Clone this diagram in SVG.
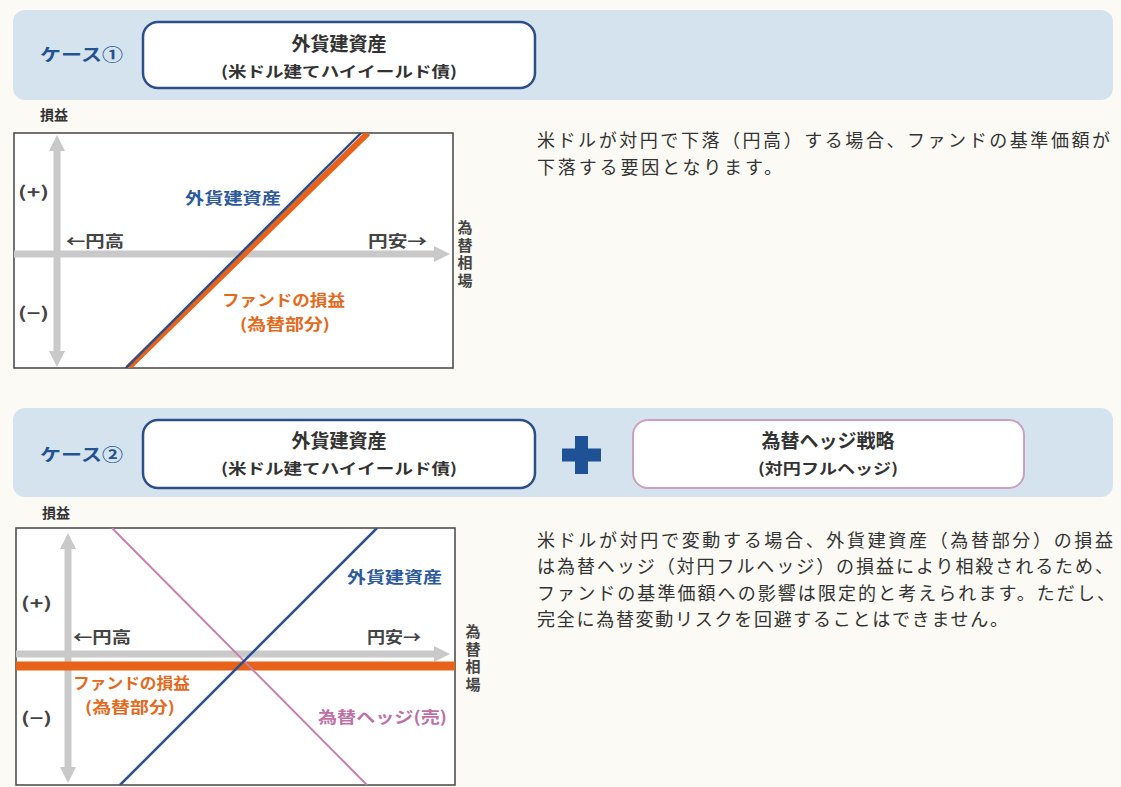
<svg xmlns="http://www.w3.org/2000/svg" width="1121" height="787" viewBox="0 0 1121 787">
<style>
  text { font-family: "Noto Sans CJK JP", "Noto Sans", sans-serif; }
  .banner { fill: #d5e3ef; }
  .box1 { fill: #ffffff; stroke: #2c4f8c; stroke-width: 2.5; }
  .box2 { fill: #ffffff; stroke: #c9a2c2; stroke-width: 2; }
  .case { font-size: 17px; font-weight: 700; fill: #24548f; }
  .title { font-size: 19px; font-weight: 700; fill: #333333; text-anchor: middle; }
  .sub { font-size: 15px; font-weight: 700; fill: #333333; text-anchor: middle; }
  .ylab { font-size: 14px; font-weight: 700; fill: #333333; }
  .frame { fill: #ffffff; stroke: #444444; stroke-width: 1.5; }
  .axis { stroke: #c9c9c9; stroke-width: 7; fill: none; }
  .lbl { font-size: 16px; font-weight: 700; fill: #444444; }
  .blue { font-size: 16px; font-weight: 700; fill: #2d5a9c; }
  .orange { font-size: 15.5px; font-weight: 700; fill: #e46a1e; }
  .pink { font-size: 16px; font-weight: 700; fill: #c070a8; }
  .vert { font-size: 15px; font-weight: 700; fill: #444444; writing-mode: vertical-rl; letter-spacing: 2.5px; }
  .body { font-size: 18px; fill: #333333; }
</style>
<defs>
  <marker id="arr" viewBox="0 0 16 16" markerWidth="16" markerHeight="16" markerUnits="userSpaceOnUse" refX="2" refY="8" orient="auto-start-reverse">
    <path d="M0,0 L16,8 L0,16 z" fill="#c9c9c9"/>
  </marker>
  <clipPath id="clip1"><rect x="14" y="133" width="439" height="235"/></clipPath>
  <clipPath id="clip2"><rect x="16" y="528" width="439" height="257"/></clipPath>
</defs>
<rect x="0" y="0" width="1121" height="787" fill="#fbfaf4"/>

<!-- Case 1 header -->
<g id="banner1">
  <rect class="banner" x="13" y="10" width="1100" height="90" rx="12"/>
  <text class="case" x="40" y="61" textLength="83" lengthAdjust="spacingAndGlyphs">ケース①</text>
</g>
<g id="box1-asset">
  <rect class="box1" x="143" y="22" width="392" height="66" rx="15"/>
  <text class="title" x="339" y="51">外貨建資産</text>
  <text class="sub" x="339" y="77" textLength="236" lengthAdjust="spacingAndGlyphs">(米ドル建てハイイールド債)</text>
</g>

<!-- Chart 1 -->
<g id="chart1">
  <text class="ylab" x="40" y="120">損益</text>
  <rect class="frame" x="14" y="133" width="439" height="235"/>
  <line class="axis" x1="57" y1="149" x2="57" y2="353" marker-start="url(#arr)" marker-end="url(#arr)"/>
  <line class="axis" x1="14" y1="254" x2="436" y2="254" marker-end="url(#arr)"/>
  <g clip-path="url(#clip1)">
    <line x1="128" y1="368" x2="368" y2="133" stroke="#e8631a" stroke-width="6"/>
    <line x1="122" y1="372" x2="366" y2="128" stroke="#2a4f8f" stroke-width="2.4"/>
  </g>
  <text class="lbl" x="18" y="198" textLength="31" lengthAdjust="spacingAndGlyphs">(+)</text>
  <text class="lbl" x="18" y="319" textLength="31" lengthAdjust="spacingAndGlyphs">(−)</text>
  <text class="lbl" x="66" y="247" textLength="58" lengthAdjust="spacingAndGlyphs">←円高</text>
  <text class="lbl" x="368" y="247" textLength="59" lengthAdjust="spacingAndGlyphs">円安→</text>
  <text class="blue" x="185" y="204" textLength="96" lengthAdjust="spacingAndGlyphs">外貨建資産</text>
  <text class="orange" x="222" y="306" textLength="123" lengthAdjust="spacingAndGlyphs">ファンドの損益</text>
  <text class="orange" x="240" y="330" textLength="90" lengthAdjust="spacingAndGlyphs">(為替部分)</text>
  <text class="vert" x="465" y="220">為替相場</text>
</g>

<g id="text1">
  <text class="body" x="537" y="147" textLength="573" lengthAdjust="spacing">米ドルが対円で下落（円高）する場合、ファンドの基準価額が</text>
  <text class="body" x="537" y="173.5" textLength="245" lengthAdjust="spacing">下落する要因となります。</text>
</g>

<!-- Case 2 header -->
<g id="banner2">
  <rect class="banner" x="13" y="408" width="1100" height="89" rx="12"/>
  <text class="case" x="40" y="461" textLength="83" lengthAdjust="spacingAndGlyphs">ケース②</text>
</g>
<g id="box2-asset">
  <rect class="box1" x="143" y="420" width="392" height="68" rx="15"/>
  <text class="title" x="339" y="448">外貨建資産</text>
  <text class="sub" x="339" y="474" textLength="236" lengthAdjust="spacingAndGlyphs">(米ドル建てハイイールド債)</text>
</g>
<g id="plus">
  <rect x="575" y="436" width="13" height="38" fill="#1f5197"/>
  <rect x="562" y="448.5" width="39" height="13" fill="#1f5197"/>
</g>
<g id="box2-hedge">
  <rect class="box2" x="633" y="420" width="391" height="68" rx="15"/>
  <text class="title" x="828" y="448">為替ヘッジ戦略</text>
  <text class="sub" x="828" y="474" textLength="140" lengthAdjust="spacingAndGlyphs">(対円フルヘッジ)</text>
</g>

<!-- Chart 2 -->
<g id="chart2">
  <text class="ylab" x="42" y="518">損益</text>
  <rect class="frame" x="16" y="528" width="439" height="257"/>
  <line class="axis" x1="68" y1="547" x2="68" y2="769" marker-start="url(#arr)" marker-end="url(#arr)"/>
  <line class="axis" x1="16" y1="654" x2="436" y2="654" marker-end="url(#arr)"/>
  <g clip-path="url(#clip2)">
    <line x1="16" y1="666" x2="455" y2="666" stroke="#e8631a" stroke-width="9"/>
    <line x1="112" y1="528" x2="367" y2="785" stroke="#c77fb0" stroke-width="2"/>
    <line x1="120" y1="785" x2="377" y2="528" stroke="#2a4f8f" stroke-width="2.5"/>
  </g>
  <text class="blue" x="347" y="583" textLength="95" lengthAdjust="spacingAndGlyphs">外貨建資産</text>
  <text class="lbl" x="21" y="609" textLength="31" lengthAdjust="spacingAndGlyphs">(+)</text>
  <text class="lbl" x="73" y="643" textLength="58" lengthAdjust="spacingAndGlyphs">←円高</text>
  <text class="lbl" x="367" y="643" textLength="54" lengthAdjust="spacingAndGlyphs">円安→</text>
  <text class="orange" x="73" y="689" textLength="117" lengthAdjust="spacingAndGlyphs">ファンドの損益</text>
  <text class="orange" x="85" y="713" textLength="90" lengthAdjust="spacingAndGlyphs">(為替部分)</text>
  <text class="lbl" x="21" y="724" textLength="31" lengthAdjust="spacingAndGlyphs">(−)</text>
  <text class="pink" x="318" y="723" textLength="129" lengthAdjust="spacingAndGlyphs">為替ヘッジ(売)</text>
  <text class="vert" x="473" y="624">為替相場</text>
</g>

<g id="text2">
  <text class="body" x="537" y="546.5" textLength="576" lengthAdjust="spacing">米ドルが対円で変動する場合、外貨建資産（為替部分）の損益</text>
  <text class="body" x="537" y="573" textLength="576" lengthAdjust="spacing">は為替ヘッジ（対円フルヘッジ）の損益により相殺されるため、</text>
  <text class="body" x="537" y="599.5" textLength="578" lengthAdjust="spacing">ファンドの基準価額への影響は限定的と考えられます。ただし、</text>
  <text class="body" x="537" y="626" textLength="471" lengthAdjust="spacing">完全に為替変動リスクを回避することはできません。</text>
</g>
</svg>
